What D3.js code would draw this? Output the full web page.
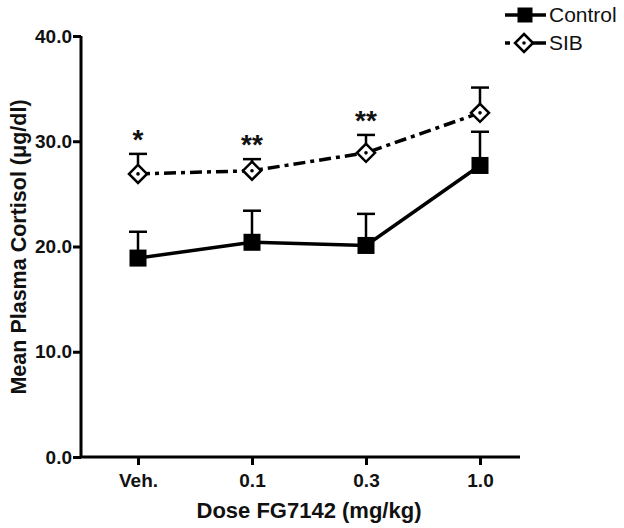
<!DOCTYPE html>
<html><head><meta charset="utf-8">
<script src="https://cdn.jsdelivr.net/npm/d3@7"></script>
<style>body{margin:0;background:#fff}svg text{font-family:"Liberation Sans",Arial,sans-serif}</style>
</head><body><svg id="c" width="624" height="528"></svg>
<script>
const categories = ["Veh.", "0.1", "0.3", "1.0"];
const controlMean = [18.9, 20.4, 20.1, 27.7];
const controlSEM = [2.5, 3.0, 3.0, 3.2];
const sibMean = [26.9, 27.2, 28.9, 32.7];
const sibSEM = [1.9, 1.1, 1.7, 2.4];
const stars = ["*", "**", "**", ""];
const yTicks = [0, 10, 20, 30, 40];

const svg = d3.select("#c");
const x = d3.scalePoint().domain(categories).range([138, 480]);
const y = d3.scaleLinear().domain([0, 40]).range([457, 36]);

const yAxis = svg.append("g").attr("transform", "translate(81,0)")
  .call(d3.axisLeft(y).tickValues(yTicks).tickFormat(d3.format(".1f")).tickSize(8).tickPadding(1));
const xAxis = svg.append("g").attr("transform", "translate(0,457)")
  .call(d3.axisBottom(x).tickSize(8).tickPadding(6));
xAxis.select(".domain").attr("d", "M81,0H520");
yAxis.select(".domain").attr("d", "M0,36V457");
[xAxis, yAxis].forEach(a => {
  a.selectAll(".domain,line").attr("stroke", "#000").attr("stroke-width", 3);
  a.selectAll("text").style("font-size", "19px").style("font-weight", "bold").attr("fill", "#111");
});
xAxis.selectAll("text").attr("dy", "0.85em");

svg.append("text").attr("x", 309).attr("y", 518).attr("text-anchor", "middle")
  .style("font-size", "22px").style("font-weight", "bold").attr("fill", "#111").text("Dose FG7142 (mg/kg)");
svg.append("text").attr("transform", "translate(26,247) rotate(-90)").attr("text-anchor", "middle")
  .style("font-size", "21.5px").style("font-weight", "bold").attr("fill", "#111").text("Mean Plasma Cortisol (μg/dl)");

const line = d3.line().x((d, i) => x(categories[i])).y(d => y(d));

function errBars(mean, sem) {
  const g = svg.append("g");
  mean.forEach((m, i) => {
    const cx = x(categories[i]);
    g.append("line").attr("x1", cx).attr("x2", cx).attr("y1", y(m)).attr("y2", y(m + sem[i]))
      .attr("stroke", "#000").attr("stroke-width", 2.5);
    g.append("line").attr("x1", cx - 9).attr("x2", cx + 9).attr("y1", y(m + sem[i])).attr("y2", y(m + sem[i]))
      .attr("stroke", "#000").attr("stroke-width", 2.5);
  });
}
errBars(controlMean, controlSEM);
errBars(sibMean, sibSEM);

svg.append("path").datum(controlMean).attr("d", line).attr("fill", "none")
  .attr("stroke", "#000").attr("stroke-width", 3.5);
svg.append("path").datum(sibMean).attr("d", line).attr("fill", "none")
  .attr("stroke", "#000").attr("stroke-width", 3.5).attr("stroke-dasharray", "12,5,4,5");

const sq = 17, dm = 9;
function square(g, cx, cy, s) {
  s = s || sq;
  g.append("rect").attr("x", cx - s / 2).attr("y", cy - s / 2).attr("width", s).attr("height", s).attr("fill", "#000");
}
function diamond(g, cx, cy) {
  g.append("path").attr("d", `M${cx},${cy - dm}L${cx + dm},${cy}L${cx},${cy + dm}L${cx - dm},${cy}Z`)
    .attr("fill", "#fff").attr("stroke", "#000").attr("stroke-width", 2.5);
  g.append("circle").attr("cx", cx).attr("cy", cy).attr("r", 1.8).attr("fill", "#000");
}
const mk = svg.append("g");
controlMean.forEach((m, i) => square(mk, x(categories[i]), y(m)));
sibMean.forEach((m, i) => diamond(mk, x(categories[i]), y(m)));

stars.forEach((s, i) => {
  svg.append("text").attr("x", x(categories[i])).attr("y", y(sibMean[i] + sibSEM[i]) - 5)
    .attr("text-anchor", "middle").style("font-size", "28px").style("font-weight", "bold").attr("fill", "#111").text(s);
});

const lg = svg.append("g");
lg.append("line").attr("x1", 505).attr("x2", 546).attr("y1", 15).attr("y2", 15).attr("stroke", "#000").attr("stroke-width", 3.5);
square(lg, 525, 15, 15);
lg.append("text").attr("x", 549).attr("y", 22).style("font-size", "21px").attr("fill", "#111").text("Control");
lg.append("line").attr("x1", 505).attr("x2", 546).attr("y1", 43).attr("y2", 43).attr("stroke", "#000").attr("stroke-width", 3.5).attr("stroke-dasharray", "5,6,40");
diamond(lg, 524, 43);
lg.append("text").attr("x", 549).attr("y", 50).style("font-size", "21px").attr("fill", "#111").text("SIB");
</script></body></html>
